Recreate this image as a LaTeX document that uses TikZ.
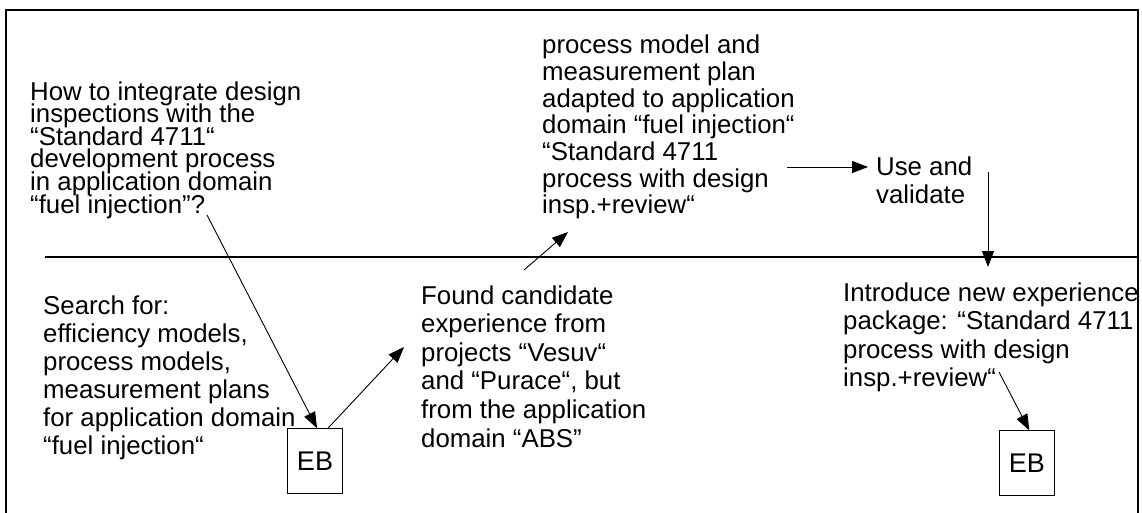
\documentclass[tikz,border=0pt]{standalone}
\usepackage{fontspec}
\setmainfont{Liberation Sans}
\usetikzlibrary{arrows.meta}
\begin{document}
\begin{tikzpicture}[x=1pt,y=-1pt,
  txt/.style={anchor=north west, inner sep=0pt, align=left,
    font={\fontsize{25.8}{#1}\selectfont\lineskiplimit=-100pt}},
  ebbox/.style={draw, line width=1pt, inner sep=0pt,
    minimum width=54.6pt, minimum height=64.6pt,
    font=\fontsize{27}{30}\selectfont},
  frame/.style={line width=1.3pt},
  link/.style={line width=0.9pt, -{Triangle[length=16pt,width=12pt]}}
]
\useasboundingbox (0,0) rectangle (1142,513);

% outer frame and the dividing line between the two levels
\draw[frame] (6,513) -- (6,10) -- (1138,10) -- (1138,513);
\draw[frame] (45,257) -- (1138,257);

% upper level
\node[txt=22.6] (question) at (30,81.2) {How to integrate design\\inspections with the\\“Standard 4711“\\development process\\in application domain\\“fuel injection”?};
\node[txt=26.7] (adapted) at (542,34.9) {process model and\\measurement plan\\adapted to application\\domain “fuel injection“\\“Standard 4711\\process with design\\insp.+review“};
\node[txt=28] (use) at (876,156.2) {Use and\\validate};

% lower level
\node[txt=28] (search) at (43,295.2) {Search for:\\efficiency models,\\process models,\\measurement plans\\for application domain\\“fuel injection“};
\node[txt=28.6] (found) at (421,285.2) {Found candidate\\experience from\\projects “Vesuv“\\and “Purace“, but\\from the application\\domain “ABS”};
\node[txt=28.3] (intro) at (843,282.8) {Introduce new experience\\package: “Standard 4711\\process with design\\insp.+review“};

\node[ebbox] (eb1) at (315,461) {EB};
\node[ebbox] (eb2) at (1026.8,463.2) {EB};

% connector end points
\coordinate (qEnd) at (207,215);
\coordinate (foundIn) at (404,347);
\coordinate (foundOut) at (524,270);
\coordinate (adaptIn) at (568,232);
\coordinate (adaptOut) at (787,167);
\coordinate (useIn) at (868,167);
\coordinate (useOut) at (988,172);
\coordinate (introIn) at (988,267);
\coordinate (introOut) at (999,372);

\draw[link] (qEnd) -- ([xshift=2pt]eb1.north);
\draw[link] ([xshift=13pt]eb1.north) -- (foundIn);
\draw[link] (foundOut) -- (adaptIn);
\draw[link] (adaptOut) -- (useIn);
\draw[link] (useOut) -- (introIn);
\draw[link] (introOut) -- ([xshift=2.5pt]eb2.north);
\end{tikzpicture}
\end{document}
